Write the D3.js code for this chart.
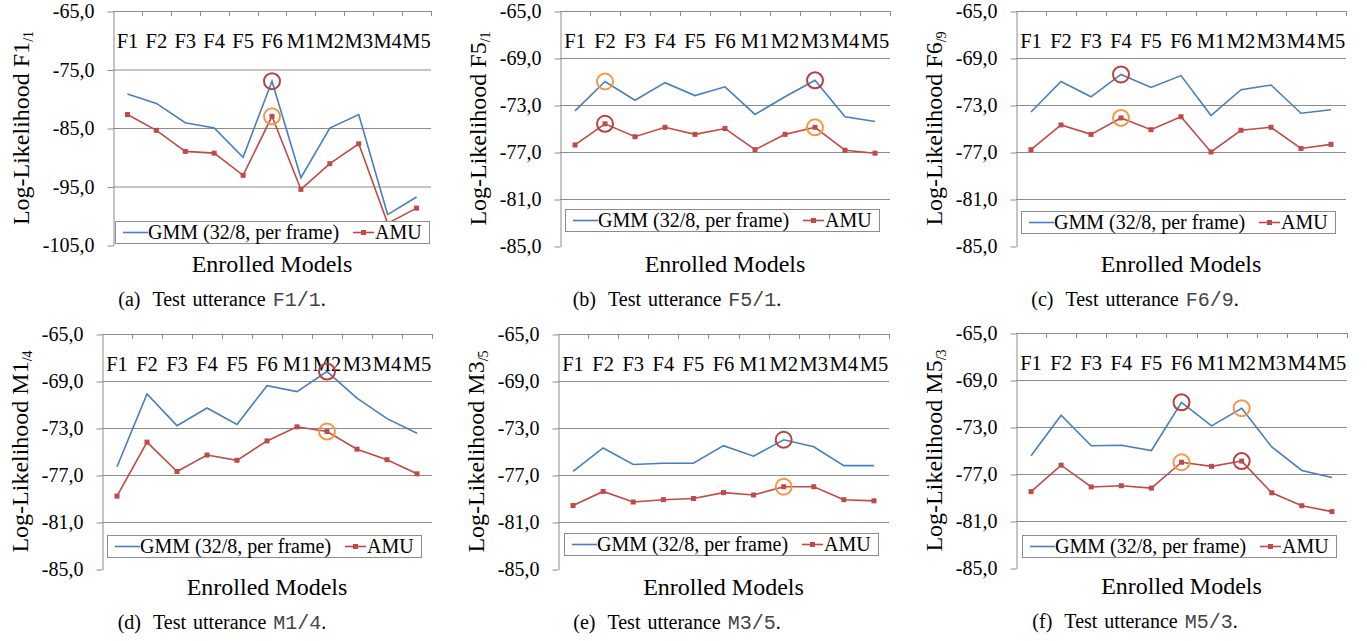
<!DOCTYPE html>
<html>
<head>
<meta charset="utf-8">
<style>
  body { margin: 0; background: #fff; }
  svg { font-family: "Liberation Serif", "Times New Roman", serif; }
</style>
</head>
<body>
<svg id="fig" width="1367" height="641"></svg>
<script src="https://d3js.org/d3.v7.min.js"></script>
<script>
// enrolled models
var models = ["F1", "F2", "F3", "F4", "F5", "F6", "M1", "M2", "M3", "M4", "M5"];

// y ticks
var ticksWide = [-65, -75, -85, -95, -105];
var ticksNarrow = [-65, -69, -73, -77, -81, -85];

// (a) test utterance F1/1
var gmmA = [-79.2, -80.8, -84.1, -85.0, -90.0, -77.0, -93.5, -85.0, -82.7, -99.8, -96.8];
var amuA = [-82.7, -85.4, -89.0, -89.3, -93.1, -83.0, -95.5, -91.1, -87.7, -101.3, -98.7];
// (b) test utterance F5/1
var gmmB = [-73.5, -71.0, -72.6, -71.1, -72.2, -71.45, -73.8, -72.3, -70.9, -74.0, -74.4];
var amuB = [-76.4, -74.6, -75.7, -74.9, -75.5, -75.0, -76.8, -75.5, -74.9, -76.85, -77.1];
// (c) test utterance F6/9
var gmmC = [-73.6, -71.0, -72.3, -70.4, -71.5, -70.5, -73.9, -71.7, -71.3, -73.7, -73.4];
var amuC = [-76.8, -74.7, -75.5, -74.1, -75.1, -74.0, -77.0, -75.15, -74.9, -76.7, -76.35];
// (d) test utterance M1/4
var gmmD = [-76.3, -70.1, -72.8, -71.3, -72.7, -69.4, -69.9, -68.2, -70.45, -72.2, -73.45];
var amuD = [-78.8, -74.2, -76.7, -75.3, -75.75, -74.1, -72.9, -73.3, -74.8, -75.7, -76.9];
// (e) test utterance M3/5
var gmmE = [-76.7, -74.7, -76.1, -76.0, -76.0, -74.5, -75.4, -74.0, -74.6, -76.2, -76.2];
var amuE = [-79.6, -78.4, -79.3, -79.1, -79.0, -78.5, -78.7, -78.0, -78.0, -79.1, -79.2];
// (f) test utterance M5/3
var gmmF = [-75.45, -72.0, -74.6, -74.55, -75.0, -70.9, -72.9, -71.4, -74.7, -76.7, -77.3];
var amuF = [-78.5, -76.25, -78.1, -78.0, -78.2, -76.0, -76.35, -75.9, -78.6, -79.7, -80.2];

// circled points: [series, model]
var redA = [["gmm", "F6"]], orangeA = [["amu", "F6"]];
var redB = [["gmm", "M3"], ["amu", "F2"]], orangeB = [["gmm", "F2"], ["amu", "M3"]];
var redC = [["gmm", "F4"]], orangeC = [["amu", "F4"]];
var redD = [["gmm", "M2"]], orangeD = [["amu", "M2"]];
var redE = [["gmm", "M2"]], orangeE = [["amu", "M2"]];
var redF = [["gmm", "F6"], ["amu", "M2"]], orangeF = [["gmm", "M2"], ["amu", "F6"]];

var seriesNames = ["GMM (32/8, per frame)", "AMU"];

var blue = "#4a7ebb", red = "#be4b48";
var grid = "#8c8c8c";

var panels = [
  {gmm: gmmA, amu: amuA, red: redA, orange: orangeA, ticks: ticksWide, who: "F1", sub: "/1", tag: "(a)", cap: "F1/1.",
   l: 113, r: 431, t: 11, b: 245, lx: 115, ly: 221, tx: 29, cx: 222},
  {gmm: gmmB, amu: amuB, red: redB, orange: orangeB, ticks: ticksNarrow, who: "F5", sub: "/1", tag: "(b)", cap: "F5/1.",
   l: 560, r: 890, t: 11, b: 246, lx: 565, ly: 209, tx: 486, cx: 677},
  {gmm: gmmC, amu: amuC, red: redC, orange: orangeC, ticks: ticksNarrow, who: "F6", sub: "/9", tag: "(c)", cap: "F6/9.",
   l: 1016, r: 1346, t: 11, b: 246, lx: 1021, ly: 211, tx: 942, cx: 1135},
  {gmm: gmmD, amu: amuD, red: redD, orange: orangeD, ticks: ticksNarrow, who: "M1", sub: "/4", tag: "(d)", cap: "M1/4.",
   l: 102, r: 432, t: 334, b: 569, lx: 107, ly: 535, tx: 28, cx: 222},
  {gmm: gmmE, amu: amuE, red: redE, orange: orangeE, ticks: ticksNarrow, who: "M3", sub: "/5", tag: "(e)", cap: "M3/5.",
   l: 558, r: 889, t: 334, b: 569, lx: 564, ly: 533, tx: 484, cx: 677},
  {gmm: gmmF, amu: amuF, red: redF, orange: orangeF, ticks: ticksNarrow, who: "M5", sub: "/3", tag: "(f)", cap: "M5/3.",
   l: 1016, r: 1347, t: 333, b: 568, lx: 1022, ly: 535, tx: 942, cx: 1135}
];

var svg = d3.select("#fig");

panels.forEach(function(p) {
  var g = svg.append("g");
  var x = d3.scaleBand().domain(models).range([p.l, p.r]).padding(0);
  var y = d3.scaleLinear().domain([d3.min(p.ticks), d3.max(p.ticks)]).range([p.b, p.t]);
  var cx = function(m) { return x(m) + x.bandwidth() / 2; };

  // gridlines (not at the bottom value)
  g.selectAll(".grid").data(p.ticks.filter(function(d) { return d != d3.min(p.ticks); }))
    .enter().append("line")
    .attr("x1", p.l).attr("x2", p.r)
    .attr("y1", function(d) { return y(d) + 0.5; }).attr("y2", function(d) { return y(d) + 0.5; })
    .attr("stroke", grid).attr("stroke-width", 1);

  // category ticks at band edges, under the top line
  var edges = models.slice(1).map(function(m) { return x(m); }).concat([p.r]);
  g.selectAll(".ctick").data(edges).enter().append("line")
    .attr("x1", function(d) { return Math.round(d) + 0.5; }).attr("x2", function(d) { return Math.round(d) + 0.5; })
    .attr("y1", y(d3.max(p.ticks))).attr("y2", y(d3.max(p.ticks)) + 5)
    .attr("stroke", grid);

  // y axis
  var ax = g.append("g").attr("transform", "translate(" + (p.l + 0.5) + ",0.5)")
    .call(d3.axisLeft(y).tickValues(p.ticks).tickSize(6).tickSizeOuter(0).tickPadding(13)
      .tickFormat(function(d) { return d.toFixed(1).replace(".", ","); }));
  ax.select(".domain").attr("stroke", grid);
  ax.selectAll(".tick line").attr("stroke", grid);
  ax.selectAll(".tick text").attr("font-size", 20).attr("font-family", "Liberation Serif").attr("fill", "#000");

  // category labels
  g.selectAll(".clab").data(models).enter().append("text")
    .attr("x", cx).attr("y", p.t + 37)
    .attr("text-anchor", "middle").attr("font-size", 20.5)
    .text(function(d) { return d; });

  // series lines
  var line = d3.line().x(function(d, i) { return cx(models[i]); }).y(function(d) { return y(d); });
  g.append("path").datum(p.gmm).attr("d", line)
    .attr("fill", "none").attr("stroke", blue).attr("stroke-width", 1.6);
  g.append("path").datum(p.amu).attr("d", line)
    .attr("fill", "none").attr("stroke", red).attr("stroke-width", 1.6);
  g.selectAll(".mk").data(p.amu).enter().append("rect")
    .attr("x", function(d, i) { return cx(models[i]) - 2.5; })
    .attr("y", function(d) { return y(d) - 2.5; })
    .attr("width", 5).attr("height", 5).attr("fill", red);

  // highlight circles
  function ring(list, color) {
    g.selectAll(null).data(list).enter().append("circle")
      .attr("cx", function(d) { return cx(d[1]); })
      .attr("cy", function(d) {
        var arr = d[0] == "gmm" ? p.gmm : p.amu;
        return y(arr[models.indexOf(d[1])]);
      })
      .attr("r", 8).attr("fill", "none").attr("stroke", color).attr("stroke-width", 2);
  }
  ring(p.red, "#b8403d");
  ring(p.orange, "#f79646");

  // legend
  var lg = g.append("g").attr("transform", "translate(" + p.lx + "," + p.ly + ")");
  lg.append("rect").attr("x", 0.5).attr("y", 0.5).attr("width", 314).attr("height", 22)
    .attr("fill", "#fff").attr("stroke", grid);
  lg.append("line").attr("x1", 8).attr("x2", 33).attr("y1", 11.5).attr("y2", 11.5)
    .attr("stroke", blue).attr("stroke-width", 1.6);
  lg.append("text").attr("x", 33).attr("y", 18).attr("font-size", 20).text(seriesNames[0]);
  lg.append("line").attr("x1", 238).attr("x2", 259).attr("y1", 11.5).attr("y2", 11.5)
    .attr("stroke", red).attr("stroke-width", 1.6);
  lg.append("rect").attr("x", 246).attr("y", 9).attr("width", 5).attr("height", 5).attr("fill", red);
  lg.append("text").attr("x", 260).attr("y", 18).attr("font-size", 20).text(seriesNames[1]);

  // axis titles
  g.append("text").attr("x", (p.l + p.r) / 2).attr("y", p.t + 261)
    .attr("text-anchor", "middle").attr("font-size", 24).text("Enrolled Models");
  var yt = g.append("text")
    .attr("transform", "translate(" + p.tx + "," + ((p.t + p.b) / 2) + ") rotate(-90)")
    .attr("text-anchor", "middle").attr("font-size", 24);
  yt.append("tspan").text("Log-Likelihood " + p.who);
  yt.append("tspan").attr("font-size", 14).attr("dy", 4).text(p.sub);

  // caption
  var cap = g.append("text").attr("x", p.cx).attr("y", p.t + 295)
    .attr("text-anchor", "middle").attr("font-size", 20).attr("word-spacing", 2);
  cap.append("tspan").text(p.tag);
  cap.append("tspan").attr("dx", 12).text("Test utterance ");
  cap.append("tspan").attr("font-family", "Liberation Mono").attr("fill", "#444").text(p.cap.slice(0, -1));
  cap.append("tspan").text(".");
});
</script>
</body>
</html>
